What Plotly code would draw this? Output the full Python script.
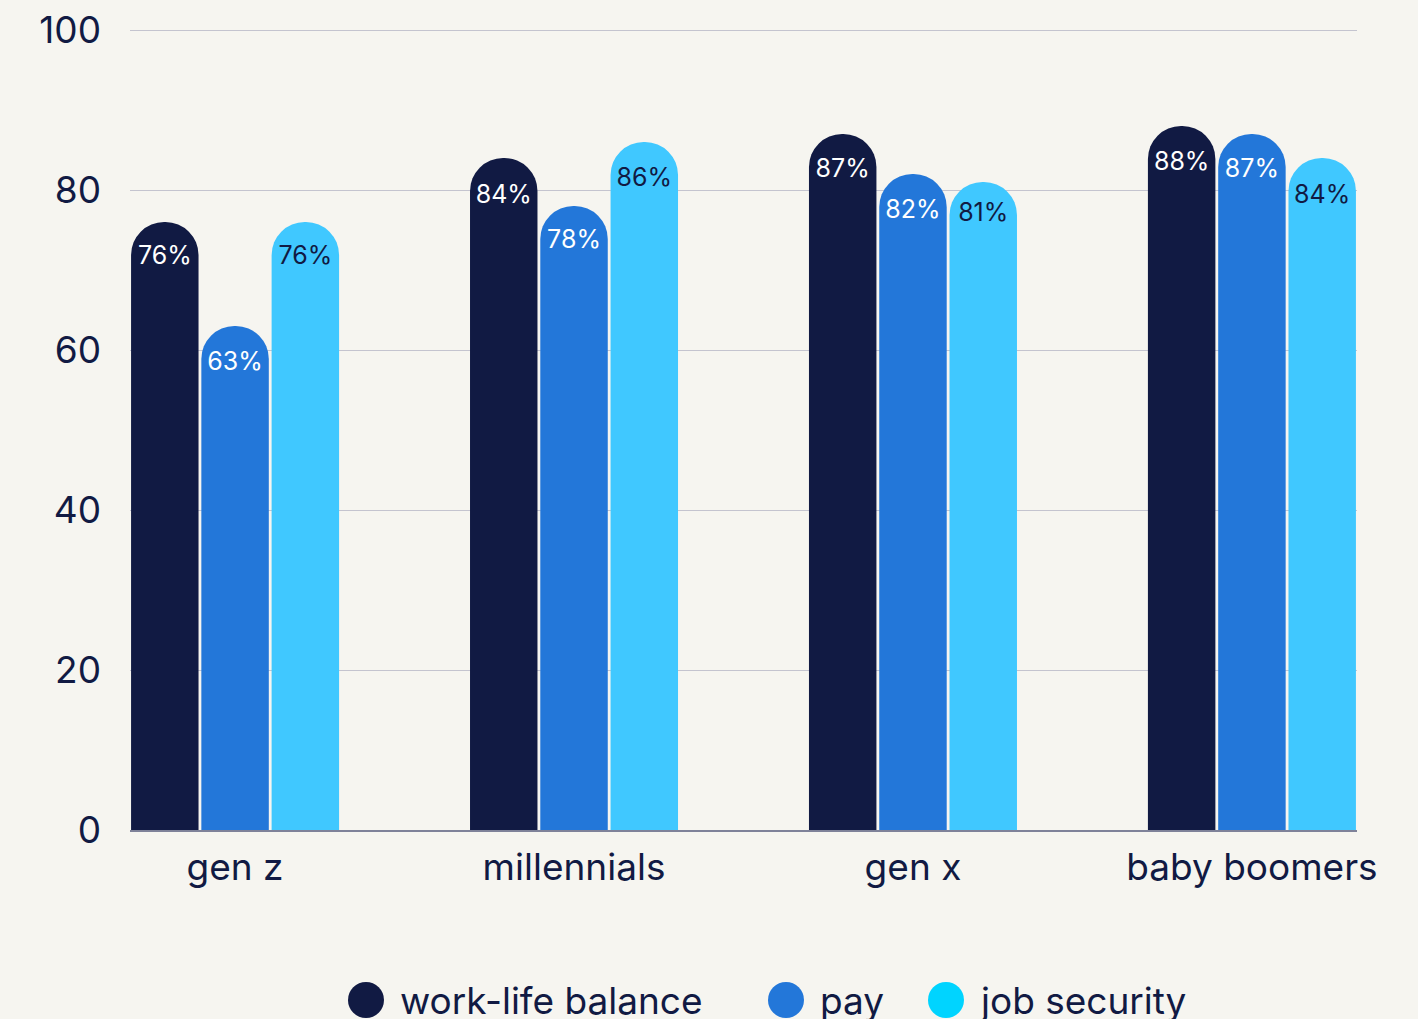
import plotly.graph_objects as go

# Survey data: share of each generation rating the factor as important
generations = ["gen z", "millennials", "gen x", "baby boomers"]
series_names = ["work-life balance", "pay", "job security"]
work_life_balance = [76, 84, 87, 88]
pay = [63, 78, 82, 87]
job_security = [76, 86, 81, 84]
y_ticks = [0, 20, 40, 60, 80, 100]

bar_colors = ["#111a43", "#2377d9", "#40c8ff"]
legend_colors = ["#111a43", "#2377d9", "#00d4ff"]
label_colors = ["#ffffff", "#ffffff", "#111a43"]
ink = "#111a43"
bg = "#f6f5f0"
font_family = "Inter, 'Noto Sans', sans-serif"

fig = go.Figure()
for name, values, color, lab in zip(series_names,
                                     [work_life_balance, pay, job_security],
                                     bar_colors, label_colors):
    fig.add_trace(go.Bar(
        x=generations,
        y=values,
        name=name,
        marker=dict(color=color, cornerradius="50%", line=dict(width=0)),
        text=[f"{v}%" for v in values],
        textposition="inside",
        insidetextanchor="end",
        textangle=0,
        textfont=dict(family=font_family, size=25, color=lab),
        showlegend=False,
        hoverinfo="skip",
    ))

# Legend drawn as round swatches with labels below the plot
legend_x = [366, 786, 946]
W, H = 1418, 1019
ml, mr, mt, mb = 130, 61, 28, 189
pw, ph = W - ml - mr, H - mt - mb
legend_cy = 1000
r = 18
for name, color, cx in zip(series_names, legend_colors, legend_x):
    x0 = (cx - r - ml) / pw
    x1 = (cx + r - ml) / pw
    y0 = (H - mb - (legend_cy + r)) / ph
    y1 = (H - mb - (legend_cy - r)) / ph
    fig.add_shape(type="circle", xref="paper", yref="paper",
                  x0=x0, x1=x1, y0=y0, y1=y1,
                  fillcolor=color, line=dict(width=0))
    fig.add_annotation(xref="paper", yref="paper",
                       x=(cx + r + 14 - ml) / pw,
                       y=(H - mb - legend_cy) / ph,
                       text=name, showarrow=False,
                       xanchor="left", yanchor="middle",
                       font=dict(family=font_family, size=37, color=ink))

fig.update_layout(
    width=W, height=H,
    margin=dict(l=ml, r=mr, t=mt, b=mb, autoexpand=False),
    paper_bgcolor=bg, plot_bgcolor=bg,
    barmode="group",
    bargap=0.378,
    bargroupgap=0.04,
    font=dict(family=font_family, color=ink),
    xaxis=dict(
        range=[-0.31, 3.31],
        tickfont=dict(size=37, color=ink),
        showgrid=False,
        showline=True, linecolor="#7f8299", linewidth=2,
        ticks="", ticklabelstandoff=4,
        automargin=False,
    ),
    yaxis=dict(
        range=[0, 100.25],
        tickvals=y_ticks,
        tickfont=dict(size=37, color=ink),
        showgrid=True, gridcolor="#c4c4cf", gridwidth=1,
        zeroline=False, showline=False,
        ticks="", ticklabelstandoff=28,
        automargin=False,
    ),
)

fig.write_html("out.html")
